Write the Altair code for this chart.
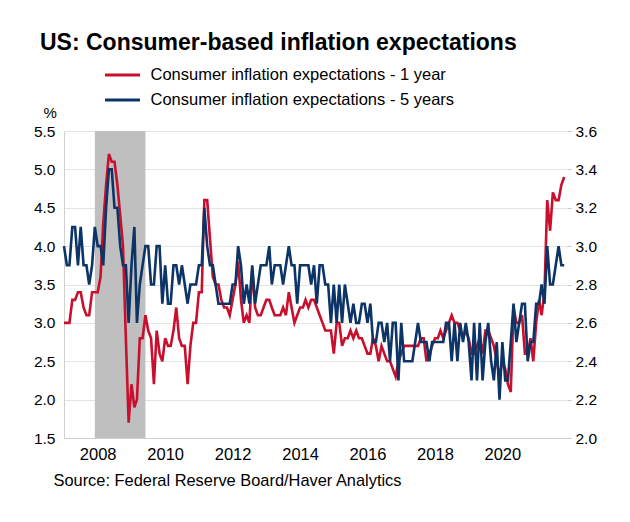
import altair as alt
import pandas as pd

FONT = "Liberation Sans"
RED = "#c8102e"
NAVY = "#0c3466"
LABEL_1Y = "Consumer inflation expectations - 1 year"
LABEL_5Y = "Consumer inflation expectations - 5 years"

# Monthly values, Jan 2007 .. Nov 2021
red_by_year = [
    [3.0, 3.0, 3.0, 3.3, 3.3, 3.4, 3.4, 3.2, 3.1, 3.1, 3.4, 3.4],  # 2007
    [3.4, 3.6, 4.3, 4.8, 5.2, 5.1, 5.1, 4.8, 4.4, 4.0, 2.8, 1.7],  # 2008
    [2.2, 1.9, 2.0, 2.8, 2.8, 3.1, 2.9, 2.8, 2.2, 2.9, 2.6, 2.5],  # 2009
    [2.8, 2.7, 2.7, 2.9, 3.2, 2.8, 2.7, 2.7, 2.2, 2.7, 3.0, 3.0],  # 2010
    [3.4, 3.4, 4.6, 4.6, 4.1, 3.6, 3.5, 3.5, 3.3, 3.2, 3.2, 3.1],  # 2011
    [3.3, 3.5, 3.8, 3.3, 3.0, 3.1, 3.0, 3.7, 3.2, 3.1, 3.1, 3.2],  # 2012
    [3.3, 3.3, 3.2, 3.1, 3.1, 3.1, 3.2, 3.1, 3.4, 3.2, 3.0, 3.1],  # 2013
    [3.2, 3.2, 3.3, 3.2, 3.3, 3.3, 3.2, 3.1, 3.0, 2.9, 2.9, 2.9],  # 2014
    [2.6, 3.0, 3.0, 2.7, 2.8, 2.8, 2.9, 2.8, 2.9, 2.8, 2.8, 2.7],  # 2015
    [2.6, 2.6, 2.8, 2.7, 2.5, 2.7, 2.6, 2.5, 2.5, 2.4, 2.3, 2.5],  # 2016
    [2.6, 2.7, 2.7, 2.7, 2.7, 2.7, 2.7, 2.8, 2.8, 2.5, 2.6, 2.7],  # 2017
    [2.8, 2.8, 2.9, 2.8, 2.9, 3.0, 3.1, 3.0, 3.0, 2.9, 2.8, 2.9],  # 2018
    [2.8, 2.6, 2.6, 2.7, 2.8, 2.6, 2.9, 2.9, 2.8, 2.7, 2.5, 2.3],  # 2019
    [2.5, 2.4, 2.2, 2.1, 3.2, 3.0, 3.0, 3.1, 2.6, 2.6, 2.8, 2.5],  # 2020
    [3.0, 3.3, 3.1, 3.4, 4.6, 4.2, 4.7, 4.6, 4.6, 4.8, 4.9],       # 2021
]
blue_by_year = [
    [3.0, 2.9, 2.9, 3.1, 3.1, 2.9, 3.1, 2.9, 2.9, 2.8, 2.9, 3.1],  # 2007
    [3.0, 3.0, 2.9, 3.2, 3.4, 3.4, 3.2, 3.2, 3.0, 2.9, 2.9, 2.6],  # 2008
    [2.9, 3.1, 2.6, 2.8, 2.9, 3.0, 3.0, 2.8, 2.8, 3.0, 3.0, 2.7],  # 2009
    [2.9, 2.7, 2.7, 2.9, 2.9, 2.8, 2.9, 2.8, 2.7, 2.8, 2.8, 2.8],  # 2010
    [2.9, 2.9, 3.2, 3.0, 2.9, 2.9, 2.8, 2.7, 2.7, 2.7, 2.7, 2.7],  # 2011
    [2.8, 2.8, 3.0, 2.9, 2.7, 2.8, 2.7, 2.9, 2.7, 2.8, 2.9, 2.9],  # 2012
    [2.9, 3.0, 2.8, 2.9, 2.9, 2.9, 2.8, 2.9, 3.0, 2.9, 2.9, 2.7],  # 2013
    [2.9, 2.9, 2.9, 2.9, 2.8, 2.9, 2.7, 2.9, 2.9, 2.8, 2.8, 2.6],  # 2014
    [2.8, 2.6, 2.8, 2.6, 2.8, 2.7, 2.6, 2.7, 2.6, 2.6, 2.7, 2.7],  # 2015
    [2.6, 2.7, 2.5, 2.5, 2.6, 2.6, 2.5, 2.6, 2.4, 2.6, 2.6, 2.3],  # 2016
    [2.6, 2.4, 2.4, 2.4, 2.4, 2.5, 2.6, 2.5, 2.5, 2.5, 2.4, 2.5],  # 2017
    [2.5, 2.5, 2.5, 2.5, 2.6, 2.6, 2.4, 2.6, 2.4, 2.6, 2.5, 2.6],  # 2018
    [2.5, 2.3, 2.6, 2.3, 2.6, 2.3, 2.5, 2.6, 2.4, 2.3, 2.5, 2.2],  # 2019
    [2.5, 2.3, 2.3, 2.5, 2.7, 2.5, 2.6, 2.7, 2.7, 2.4, 2.5, 2.5],  # 2020
    [2.7, 2.7, 2.8, 2.7, 3.0, 2.8, 2.8, 2.9, 3.0, 2.9, 2.9],       # 2021
]
recession_start = ["2007-12-01"]
recession_end = ["2009-06-01"]
x_tick_years = [2008, 2010, 2012, 2014, 2016, 2018, 2020]
left_ticks = [1.5, 2.0, 2.5, 3.0, 3.5, 4.0, 4.5, 5.0, 5.5]
right_ticks = [2.0, 2.2, 2.4, 2.6, 2.8, 3.0, 3.2, 3.4, 3.6]

red = [v for yr in red_by_year for v in yr]
blue = [v for yr in blue_by_year for v in yr]
dates = pd.date_range("2007-01-01", periods=len(red), freq="MS").strftime("%Y-%m-%d")

df_red = pd.DataFrame({"date": dates, "value": red, "series": LABEL_1Y})
df_blue = pd.DataFrame({"date": dates, "value": blue, "series": LABEL_5Y})
df_rec = pd.DataFrame({"start": recession_start, "end": recession_end})

x_scale = alt.Scale(
    type="utc",
    domain=[alt.DateTime(year=2007, month=1, date=1, utc=True),
            alt.DateTime(year=2021, month=12, date=1, utc=True)],
)
x_axis = alt.Axis(
    values=[alt.DateTime(year=y, month=1, date=1, utc=True) for y in x_tick_years],
    format="%Y", formatType="utc", grid=False, ticks=False,
    domainColor="#d0d0d0", labelFontSize=16.5, labelPadding=8, labelColor="#000000",
    title="Source: Federal Reserve Board/Haver Analytics",
    titleX=-11, titleY=42, titleAlign="left", titleBaseline="middle",
    titleFontSize=16.4, titleFontWeight="normal", titleColor="#000000",
)

color = alt.Color(
    "series:N",
    scale=alt.Scale(domain=[LABEL_1Y, LABEL_5Y], range=[RED, NAVY]),
    legend=alt.Legend(
        title=None, orient="none", legendX=48.5, legendY=-66,
        symbolType="M-2.06,0H2.06", symbolSize=289, symbolStrokeWidth=3,
        labelFontSize=16.5, labelOffset=18, rowPadding=6, padding=0,
        labelColor="#000000", labelLimit=0,
    ),
)

rec = alt.Chart(df_rec).mark_rect(color="#bfbfbf").encode(
    x=alt.X("start:T", scale=x_scale, axis=x_axis),
    x2="end:T",
)

red_line = alt.Chart(df_red).mark_line(strokeWidth=2.6).encode(
    x=alt.X("date:T", scale=x_scale, axis=x_axis),
    y=alt.Y("value:Q", scale=alt.Scale(domain=[1.5, 5.5], nice=False, zero=False),
            axis=alt.Axis(values=left_ticks, format=".1f", grid=True, gridColor="#e4e4e4",
                          ticks=False, domainColor="#d0d0d0", labelFontSize=15.5,
                          labelPadding=9, labelColor="#000000",
                          title="%", titleAngle=0, titleX=-21, titleY=-19,
                          titleAlign="left", titleBaseline="middle", titleFontSize=15,
                          titleFontWeight="normal", titleColor="#000000")),
    color=color,
)

blue_line = alt.Chart(df_blue).mark_line(strokeWidth=2.6).encode(
    x=alt.X("date:T", scale=x_scale, axis=x_axis),
    y=alt.Y("value:Q", scale=alt.Scale(domain=[2.0, 3.6], nice=False, zero=False),
            axis=alt.Axis(orient="right", values=right_ticks, format=".1f", grid=False,
                          ticks=True, tickSize=4, tickColor="#c8c8c8", domain=False,
                          labelFontSize=15.5, labelPadding=4, labelColor="#000000",
                          title=None)),
    color=color,
)

chart = alt.layer(rec, red_line, blue_line).resolve_scale(y="independent").properties(
    width=503, height=307,
    padding={"left": 64, "top": 131, "right": 63, "bottom": 84},
    autosize=alt.AutoSizeParams(type="none"),
    title=alt.TitleParams(
        "US: Consumer-based inflation expectations", anchor="start", frame="group",
        fontSize=23, fontWeight="bold", font=FONT, color="#000000", dx=-24, offset=10,
    ),
).configure(font=FONT, background="#ffffff").configure_view(stroke=None).configure_axis(
    labelFont=FONT, titleFont=FONT
).configure_legend(labelFont=FONT)

chart.save("out.html", embed_options={"renderer": "svg", "actions": False})
